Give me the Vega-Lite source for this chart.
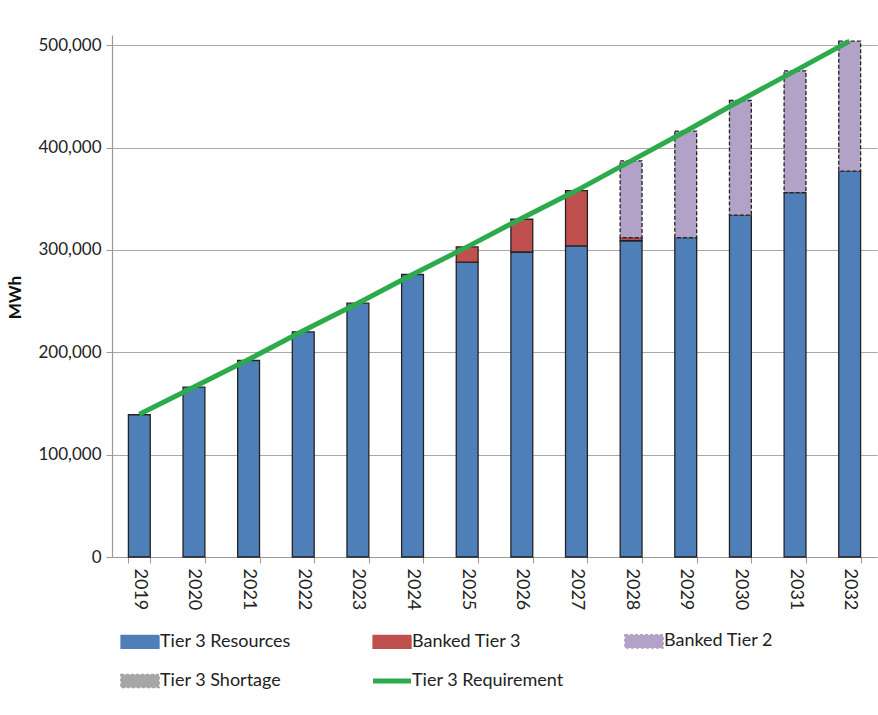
{
  "$schema": "https://vega.github.io/schema/vega-lite/v6.json",
  "autosize": "none",
  "width": 765,
  "height": 522,
  "padding": {"left": 112, "top": 35, "right": 1, "bottom": 158},
  "background": "white",
  "config": {
    "font": "Lato",
    "view": {"stroke": null},
    "axis": {"labelFont": "Lato", "titleFont": "Lato", "labelColor": "#222", "domainColor": "#9a9a9a", "tickColor": "#9a9a9a", "gridColor": "#a8a8a8"}
  },
  "datasets": {
    "bars": [
      {"year": "2019", "series": "Tier 3 Resources", "mwh": 139000},
      {"year": "2020", "series": "Tier 3 Resources", "mwh": 166000},
      {"year": "2021", "series": "Tier 3 Resources", "mwh": 192000},
      {"year": "2022", "series": "Tier 3 Resources", "mwh": 220000},
      {"year": "2023", "series": "Tier 3 Resources", "mwh": 248000},
      {"year": "2024", "series": "Tier 3 Resources", "mwh": 276000},
      {"year": "2025", "series": "Tier 3 Resources", "mwh": 288000},
      {"year": "2025", "series": "Banked Tier 3", "mwh": 15000},
      {"year": "2026", "series": "Tier 3 Resources", "mwh": 298000},
      {"year": "2026", "series": "Banked Tier 3", "mwh": 32000},
      {"year": "2027", "series": "Tier 3 Resources", "mwh": 304000},
      {"year": "2027", "series": "Banked Tier 3", "mwh": 54000},
      {"year": "2028", "series": "Tier 3 Resources", "mwh": 309000},
      {"year": "2028", "series": "Banked Tier 3", "mwh": 3000},
      {"year": "2028", "series": "Banked Tier 2", "mwh": 75000},
      {"year": "2029", "series": "Tier 3 Resources", "mwh": 312000},
      {"year": "2029", "series": "Banked Tier 2", "mwh": 104000},
      {"year": "2030", "series": "Tier 3 Resources", "mwh": 334000},
      {"year": "2030", "series": "Banked Tier 2", "mwh": 112000},
      {"year": "2031", "series": "Tier 3 Resources", "mwh": 356000},
      {"year": "2031", "series": "Banked Tier 2", "mwh": 119000},
      {"year": "2032", "series": "Tier 3 Resources", "mwh": 377000},
      {"year": "2032", "series": "Banked Tier 2", "mwh": 127000}
    ],
    "req": [
      {"year": "2019", "mwh": 139500},
      {"year": "2020", "mwh": 166000},
      {"year": "2021", "mwh": 193000},
      {"year": "2022", "mwh": 221000},
      {"year": "2023", "mwh": 248000},
      {"year": "2024", "mwh": 276000},
      {"year": "2025", "mwh": 303000},
      {"year": "2026", "mwh": 331000},
      {"year": "2027", "mwh": 358000},
      {"year": "2028", "mwh": 387000},
      {"year": "2029", "mwh": 416000},
      {"year": "2030", "mwh": 446000},
      {"year": "2031", "mwh": 475000},
      {"year": "2032", "mwh": 504000}
    ]
  },
  "encoding": {
    "x": {
      "field": "year", "type": "ordinal",
      "scale": {"paddingInner": 0.6, "paddingOuter": 0.3},
      "axis": {"title": null, "labelAngle": 90, "labelAlign": "left", "labelBaseline": "middle", "labelFontSize": 18, "labelPadding": 5, "tickBand": "extent", "tickSize": 6, "grid": false, "domainWidth": 1.2}
    }
  },
  "layer": [
    {
      "data": {"name": "bars"},
      "mark": {"type": "bar", "stroke": "#222222"},
      "encoding": {
        "y": {
          "field": "mwh", "type": "quantitative", "stack": "zero",
          "scale": {"domain": [0, 510000], "nice": false},
          "axis": {"title": "MWh", "values": [0, 100000, 200000, 300000, 400000, 500000], "format": ",d", "labelFontSize": 17, "labelPadding": 5, "tickSize": 6, "titleFontSize": 17, "titleFontWeight": "bold", "titleColor": "#111", "titleX": -97, "titleY": 262, "titleAngle": -90, "titleAlign": "center", "titleBaseline": "middle", "domainWidth": 1.2}
        },
        "color": {
          "field": "series", "type": "nominal",
          "sort": ["Tier 3 Resources", "Banked Tier 3", "Banked Tier 2", "Tier 3 Shortage", "Tier 3 Requirement"],
          "scale": {
            "domain": ["Tier 3 Resources", "Banked Tier 3", "Banked Tier 2", "Tier 3 Shortage", "Tier 3 Requirement"],
            "range": ["#4F7FB8", "#C0504D", "#B3A2C7", "#A6A6A6", "#2DAA4B"]
          },
          "legend": {
            "title": null,
            "orient": "none",
            "legendX": 8,
            "legendY": 597,
            "direction": "horizontal",
            "columns": 3,
            "columnPadding": 51,
            "rowPadding": 18,
            "gridAlign": "all",
            "labelFont": "Lato",
            "labelFontSize": 18,
            "labelColor": "#222",
            "labelOffset": 22,
            "symbolSize": 1444,
            "symbolType": "M-0.42,-0.34H1.58V0.34H-0.42Z",
            "symbolStrokeWidth": 1.2,
            "symbolStrokeColor": "#222222",
            "encode": {
              "symbols": {
                "update": {
                  "shape": {"signal": "datum.value === 'Tier 3 Requirement' ? 'M-0.42,0H1.58' : 'M-0.42,-0.34H1.58V0.34H-0.42Z'"},
                  "stroke": {"signal": "datum.value === 'Tier 3 Requirement' ? '#2DAA4B' : '#222222'"},
                  "strokeWidth": {"signal": "datum.value === 'Tier 3 Requirement' ? 5 : ((datum.value === 'Banked Tier 2' || datum.value === 'Tier 3 Shortage') ? 1.8 : 1.3)"},
                  "strokeDash": {"signal": "(datum.value === 'Banked Tier 2' || datum.value === 'Tier 3 Shortage') ? [3, 2] : [1, 0]"},
                  "opacity": {"value": 1},
                  "fillOpacity": {"value": 1}
                }
              }
            }
          }
        },
        "strokeDash": {
          "field": "series", "type": "nominal",
          "scale": {"domain": ["Tier 3 Resources", "Banked Tier 3", "Banked Tier 2"], "range": [[1, 0], [1, 0], [4, 2]]},
          "legend": null
        },
        "strokeWidth": {
          "field": "series", "type": "nominal",
          "scale": {"domain": ["Tier 3 Resources", "Banked Tier 3", "Banked Tier 2"], "range": [1.3, 1.3, 2]},
          "legend": null
        }
      }
    },
    {
      "data": {"name": "req"},
      "mark": {"type": "line", "strokeWidth": 5, "strokeCap": "butt"},
      "encoding": {
        "y": {"field": "mwh", "type": "quantitative"},
        "color": {"datum": "Tier 3 Requirement", "legend": null}
      }
    }
  ]
}
